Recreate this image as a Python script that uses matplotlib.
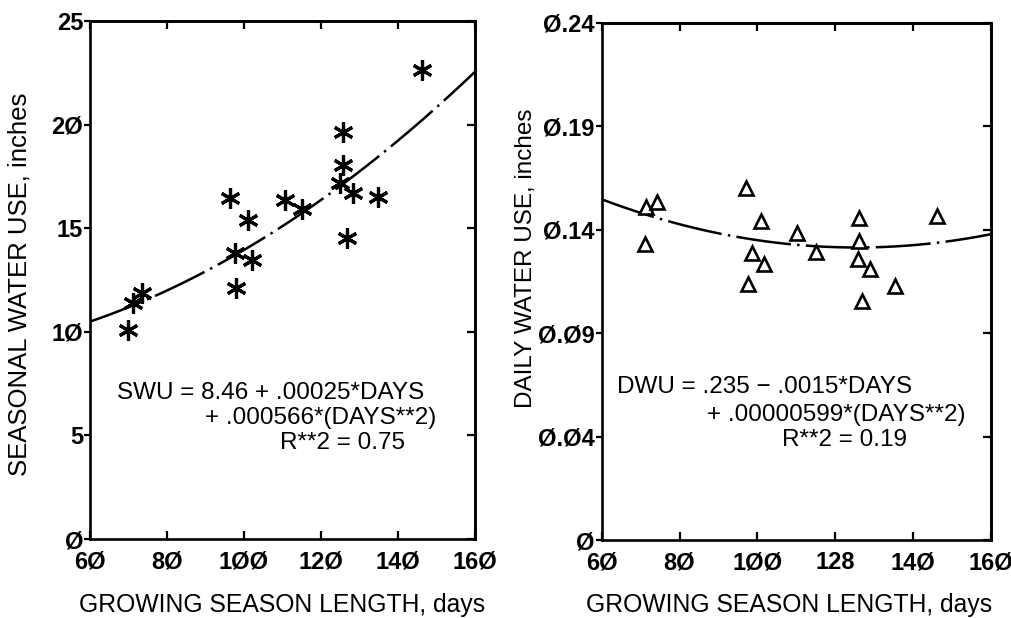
import numpy as np
import matplotlib.pyplot as plt

plt.rcParams['font.family'] = ['Liberation Sans', 'DejaVu Sans']

# growing season length (days) and seasonal water use (inches)
days_swu = [70.0, 71.1, 73.4, 96.5, 97.7, 97.9, 101.1, 102.0, 110.6, 115.0,
            125.6, 125.6, 124.9, 128.4, 134.9, 126.7, 146.2]
swu = [10.1, 11.37, 11.86, 16.44, 13.79, 12.1, 15.4, 13.47, 16.36, 15.91,
       19.66, 18.05, 17.17, 16.68, 16.49, 14.51, 22.64]

# growing season length (days) and daily water use (inches)
days_dwu = [71.4, 74.3, 71.0, 97.1, 101.0, 98.7, 101.8, 97.7, 110.3, 115.1,
            126.2, 126.2, 125.8, 129.0, 127.0, 135.4, 146.1]
dwu = [0.1547, 0.1567, 0.1372, 0.1635, 0.1482, 0.1330, 0.1281, 0.1188, 0.1423,
       0.1338, 0.1493, 0.1389, 0.1302, 0.1256, 0.1109, 0.1180, 0.1503]

# fitted curves (a + b*x + c*x^2)
swu_fit = [8.71, -0.0044, 0.000568]
dwu_fit = [0.2177, -0.001306, 5.2e-6]

x_ticks = [60, 80, 100, 120, 140, 160]
x_labels_l = ['6Ø', '8Ø', '1ØØ', '12Ø', '14Ø', '16Ø']
x_labels_r = ['6Ø', '8Ø', '1ØØ', '128', '14Ø', '16Ø']
swu_ticks = [0, 5, 10, 15, 20, 25]
swu_labels = ['Ø', '5', '1Ø', '15', '2Ø', '25']
dwu_ticks = np.linspace(0, 0.24, 6)
dwu_labels = ['Ø', 'Ø.Ø4', 'Ø.Ø9', 'Ø.14', 'Ø.19', 'Ø.24']

fig = plt.figure(figsize=(10.12, 6.18), dpi=100)
ax1 = fig.add_axes([0.0889, 0.1278, 0.3804, 0.8382])
ax2 = fig.add_axes([0.5946, 0.1262, 0.3844, 0.8371])

tick_font = dict(fontsize=17, fontweight='bold')
label_font = dict(fontsize=17.8)
note_size = 17.5
dash = (0, (22, 2.5, 1, 2.5))
xs = np.linspace(60, 160, 200)


def style(ax, yt, ylab, xlab):
    for s in ax.spines.values():
        s.set_linewidth(1.9)
    ax.set_xticks(x_ticks)
    ax.set_xticklabels(xlab, **tick_font)
    ax.set_yticks(yt)
    ax.set_yticklabels(ylab, **tick_font)
    ax.tick_params(axis='x', direction='in', length=6, width=1.6, pad=8)
    ax.tick_params(axis='y', direction='out', length=4, width=1.6, pad=1)
    top = ax.secondary_xaxis('top')
    top.set_xticks(x_ticks)
    top.tick_params(direction='in', length=6, width=1.6, labeltop=False)
    top.spines['top'].set_linewidth(1.9)
    right = ax.secondary_yaxis('right')
    right.set_yticks(yt)
    right.tick_params(direction='in', length=6, width=1.6, labelright=False)
    right.spines['right'].set_linewidth(1.9)


# left panel
ax1.plot(xs, swu_fit[0] + swu_fit[1] * xs + swu_fit[2] * xs ** 2,
         color='black', lw=1.8, linestyle=dash)
ax1.plot(days_swu, swu, linestyle='none', marker=(6, 2, 0), markersize=14.5,
         mew=2.3, color='black')
ax1.set_xlim(60, 160)
ax1.set_ylim(0, 25)
style(ax1, swu_ticks, swu_labels, x_labels_l)
ax1.set_xlabel('GROWING SEASON LENGTH, days', **label_font)
ax1.set_ylabel('SEASONAL WATER USE, inches', fontsize=18.5)
ax1.xaxis.set_label_coords(0.5, -0.104)
ax1.yaxis.set_label_coords(-0.151, 0.492)
ax1.text(67, 7.05, 'SWU = 8.46 + .00025*DAYS', fontsize=note_size, va='center')
ax1.text(89.9, 5.84, '+ .000566*(DAYS**2)', fontsize=note_size, va='center')
ax1.text(109.4, 4.63, 'R**2 = 0.75', fontsize=note_size, va='center')

# right panel
ax2.plot(xs, dwu_fit[0] + dwu_fit[1] * xs + dwu_fit[2] * xs ** 2,
         color='black', lw=1.8, linestyle=dash)
ax2.plot(days_dwu, dwu, linestyle='none', marker='^', markersize=10.5,
         mew=1.9, mfc='white', color='black')
ax2.set_xlim(60, 160)
ax2.set_ylim(0, 0.24)
style(ax2, dwu_ticks, dwu_labels, x_labels_r)
ax2.set_xlabel('GROWING SEASON LENGTH, days', **label_font)
ax2.set_ylabel('DAILY WATER USE, inches', fontsize=17.5)
ax2.xaxis.set_label_coords(0.481, -0.102)
ax2.yaxis.set_label_coords(-0.166, 0.545)
ax2.text(63.9, 0.071, 'DWU = .235 \u2212 .0015*DAYS', fontsize=note_size, va='center')
ax2.text(87.1, 0.058, '+ .00000599*(DAYS**2)', fontsize=note_size, va='center')
ax2.text(106.3, 0.0464, 'R**2 = 0.19', fontsize=note_size, va='center')

fig.savefig('out.png', dpi=100)
